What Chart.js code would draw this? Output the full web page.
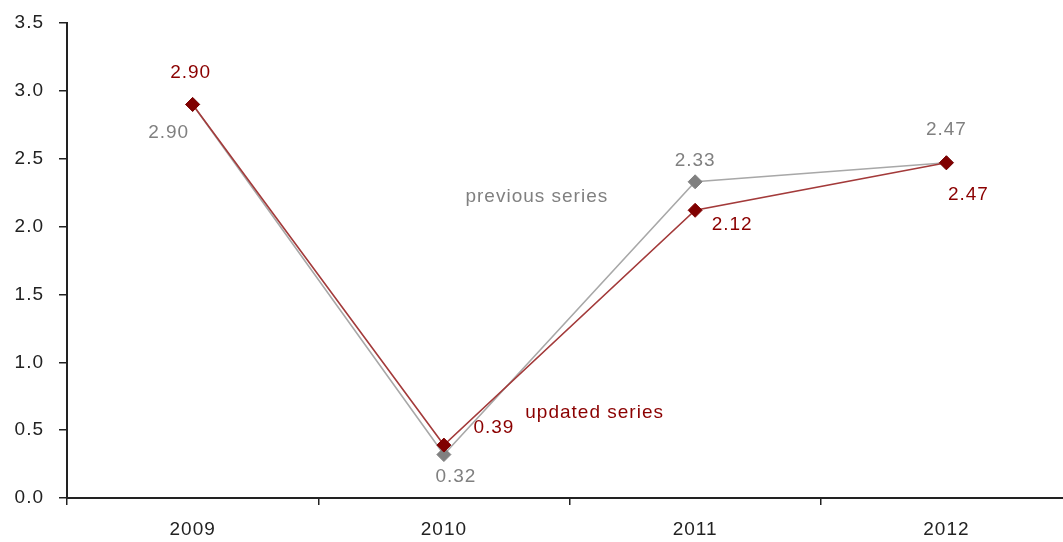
<!DOCTYPE html>
<html>
<head>
<meta charset="utf-8">
<script src="https://cdn.jsdelivr.net/npm/chart.js@4/dist/chart.umd.min.js"></script>
<style>
body{margin:0;background:#fff;overflow:hidden;}
#wrap{width:1063px;height:542px;overflow:hidden;}
</style>
</head>
<body>
<div id="wrap"><canvas id="chart" width="1080" height="542"></canvas></div>
<script>
/* DATA */
const years=["2009","2010","2011","2012"];
const previousSeries=[2.90,0.32,2.33,2.47];
const updatedSeries=[2.90,0.39,2.12,2.47];
const yMin=0, yMax=3.5, yStep=0.5;

/* label placement (pixels from the point) */
const previousLabelOffsets=[[-24,28],[12,22],[0,-21],[0,-33]];
const updatedLabelOffsets=[[-2,-32],[50,-17],[37,14],[22,32]];

/* series name annotations, in data space (category index, value) */
const seriesNames=[
{text:"previous series",at:[1.37,2.22],color:"#808080"},
{text:"updated series",at:[1.60,0.63],color:"#8b0000"}
];

const FONT="Liberation Sans, Arial, sans-serif";

/* wider letter spacing like the original */
const spacing={
id:"spacing",
beforeLayout(chart){chart.ctx.letterSpacing="1px";},
beforeDraw(chart){chart.ctx.letterSpacing="1px";}
};

const valueLabels={
id:"valueLabels",
afterDatasetsDraw(chart){
const ctx=chart.ctx;
ctx.save();
ctx.font="19px "+FONT;
ctx.letterSpacing="1px";
ctx.textAlign="center";
ctx.textBaseline="middle";
chart.data.datasets.forEach((ds,i)=>{
const meta=chart.getDatasetMeta(i);
meta.data.forEach((pt,j)=>{
const off=ds.labelOffsets[j];
ctx.fillStyle=ds.labelColor;
ctx.fillText(ds.data[j].toFixed(2),pt.x+off[0],pt.y+off[1]);
});
});
const xs=chart.scales.x, ys=chart.scales.y;
seriesNames.forEach(s=>{
ctx.fillStyle=s.color;
ctx.fillText(s.text,xs.getPixelForValue(s.at[0]),ys.getPixelForValue(s.at[1]));
});
ctx.restore();
}
};

new Chart(document.getElementById("chart"),{
type:"line",
data:{
labels:years,
datasets:[
{
label:"updated series",
data:updatedSeries,
borderColor:"#a33a3a",
borderWidth:1.6,
pointStyle:"rectRot",
pointRadius:7,
pointBackgroundColor:"#800000",
pointBorderColor:"#800000",
pointBorderWidth:1,
labelColor:"#8b0000",
labelOffsets:updatedLabelOffsets,
tension:0
},
{
label:"previous series",
data:previousSeries,
borderColor:"#a8a8a8",
borderWidth:1.6,
pointStyle:"rectRot",
pointRadius:7,
pointBackgroundColor:"#808080",
pointBorderColor:"#808080",
pointBorderWidth:1,
labelColor:"#808080",
labelOffsets:previousLabelOffsets,
tension:0
}
]
},
options:{
responsive:false,
animation:false,
devicePixelRatio:1,
layout:{padding:{top:23,left:0,right:0,bottom:0}},
plugins:{legend:{display:false},tooltip:{enabled:false}},
scales:{
x:{
offset:true,
grid:{offset:true,drawOnChartArea:false,drawTicks:true,tickLength:7,color:"#222",lineWidth:1.5},
border:{display:true,color:"#222",width:2},
ticks:{color:"#222",padding:13,font:{family:FONT,size:19}},
afterFit(scale){scale.height=44;scale.paddingLeft=0;scale.paddingRight=0;}
},
y:{
min:yMin,max:yMax,
grid:{drawOnChartArea:false,drawTicks:true,tickLength:8,color:"#222",lineWidth:1.5},
border:{display:true,color:"#222",width:2},
ticks:{stepSize:yStep,color:"#222",padding:15,font:{family:FONT,size:19},
callback:v=>Number(v).toFixed(1)},
afterFit(scale){scale.width=67;scale.paddingTop=0;scale.paddingBottom=0;}
}
}
},
plugins:[spacing,valueLabels]
});
</script>
</body>
</html>
